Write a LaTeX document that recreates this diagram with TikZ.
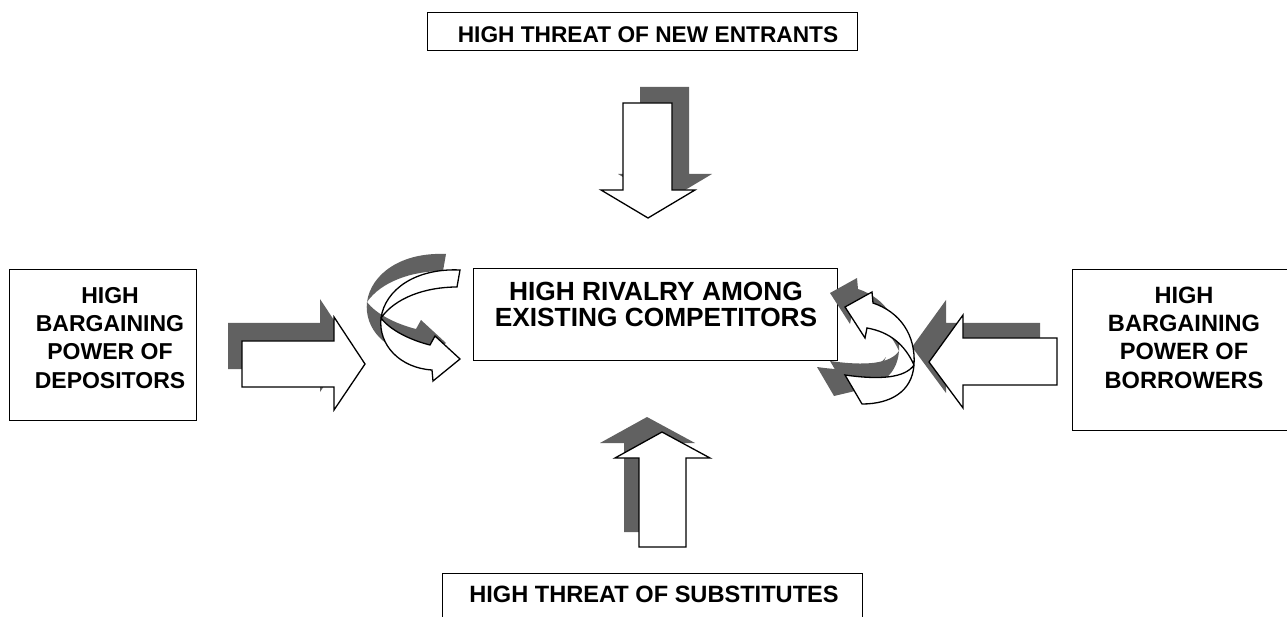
\documentclass[tikz,border=0pt]{standalone}
\usepackage{fontspec}
\setmainfont{Liberation Sans}
\begin{document}
\begin{tikzpicture}[x=1pt,y=-1pt,
  box/.style={draw, line width=0.9pt, inner sep=0pt},
  lbl/.style={align=center, inner sep=0pt, font=\fontsize{23}{28.3}\selectfont\bfseries},
  shadowfill/.style={fill=black!62, draw=none},
  arrowbody/.style={fill=white, draw=black, line width=1.3pt, line join=miter}]
\useasboundingbox (0,0) rectangle (1287,617);
\clip (0,0) rectangle (1287,617);

% boxes
\node[box, minimum width=430pt, minimum height=38pt] (newbox) at (642,31) {};
\node[lbl, font=\fontsize{22.7}{27}\selectfont\bfseries] (newtxt) at (648,34.5) {HIGH THREAT OF NEW ENTRANTS};

\node[box, minimum width=420pt, minimum height=66pt] (subbox) at (652,606) {};
\node[lbl, font=\fontsize{23.6}{28}\selectfont\bfseries] (subtxt) at (654,594.5) {HIGH THREAT OF SUBSTITUTES};

\node[box, minimum width=187pt, minimum height=151pt] (depbox) at (102.5,344.5) {};
\node[lbl] (deptxt) at (110,337.7) {HIGH\\BARGAINING\\POWER OF\\DEPOSITORS};

\node[box, minimum width=238pt, minimum height=161pt] (borbox) at (1191,349.5) {};
\node[lbl, font=\fontsize{23.6}{28.3}\selectfont\bfseries] (bortxt) at (1184,337.7) {HIGH\\BARGAINING\\POWER OF\\BORROWERS};

\node[box, minimum width=364pt, minimum height=92pt] (rivbox) at (655,314) {};
\node[lbl, font=\fontsize{26.3}{26.7}\selectfont\bfseries] (rivtxt) at (656,304.5) {HIGH RIVALRY AMONG\\EXISTING COMPETITORS};

% straight arrows
\def\downarrowpath{(623,103) -- (672,103) -- (672,190) -- (695,190) -- (648,218) -- (601,190) -- (623,190) -- cycle}
\def\uparrowpath{(662,432) -- (710,458) -- (686,458) -- (686,547) -- (639,547) -- (639,458) -- (615,458) -- cycle}
\def\rightarrowpath{(242,341) -- (334,341) -- (334,317) -- (365,364) -- (334,410) -- (334,387) -- (242,387) -- cycle}
\def\leftarrowpath{(1057,338) -- (963,338) -- (963,315) -- (929,362) -- (963,408) -- (963,385) -- (1057,385) -- cycle}

\fill[shadowfill, shift={(17,-16)}] \downarrowpath;
\draw[arrowbody] \downarrowpath;
\fill[shadowfill, shift={(-15,-15)}] \uparrowpath;
\draw[arrowbody] \uparrowpath;
\fill[shadowfill, shift={(-14,-18)}] \rightarrowpath;
\draw[arrowbody] \rightarrowpath;
\fill[shadowfill, shift={(-17,-15)}] \leftarrowpath;
\draw[arrowbody] \leftarrowpath;

% curved arrows
\def\leftcurve{(460,270) .. controls (415,268) and (385,290) .. (381,318)
  .. controls (378,345) and (400,368) .. (432,370) -- (433,381) -- (460,359) -- (435,336) -- (430,345)
  .. controls (410,340) and (390,330) .. (381,318)
  .. controls (395,298) and (425,287) .. (457,287) -- cycle}
\def\rightcurve{(845,307) -- (872,292) -- (873,303)
  .. controls (900,312) and (916,335) .. (914,365)
  .. controls (912,392) and (890,404) .. (862,404) -- (845,375)
  .. controls (880,380) and (905,378) .. (914,365)
  .. controls (905,345) and (890,332) .. (867,328) -- (865,338) -- cycle}

\fill[shadowfill, shift={(-14,-16)}] \leftcurve;
\draw[arrowbody] \leftcurve;
\fill[shadowfill, shift={(-15,-14)}] \rightcurve;
\fill[shadowfill, shift={(-28,-8)}] (862,404) -- (845,375) .. controls (880,380) and (905,378) .. (914,365) -- (900,395) -- cycle;
\draw[arrowbody] \rightcurve;
\end{tikzpicture}
\end{document}
